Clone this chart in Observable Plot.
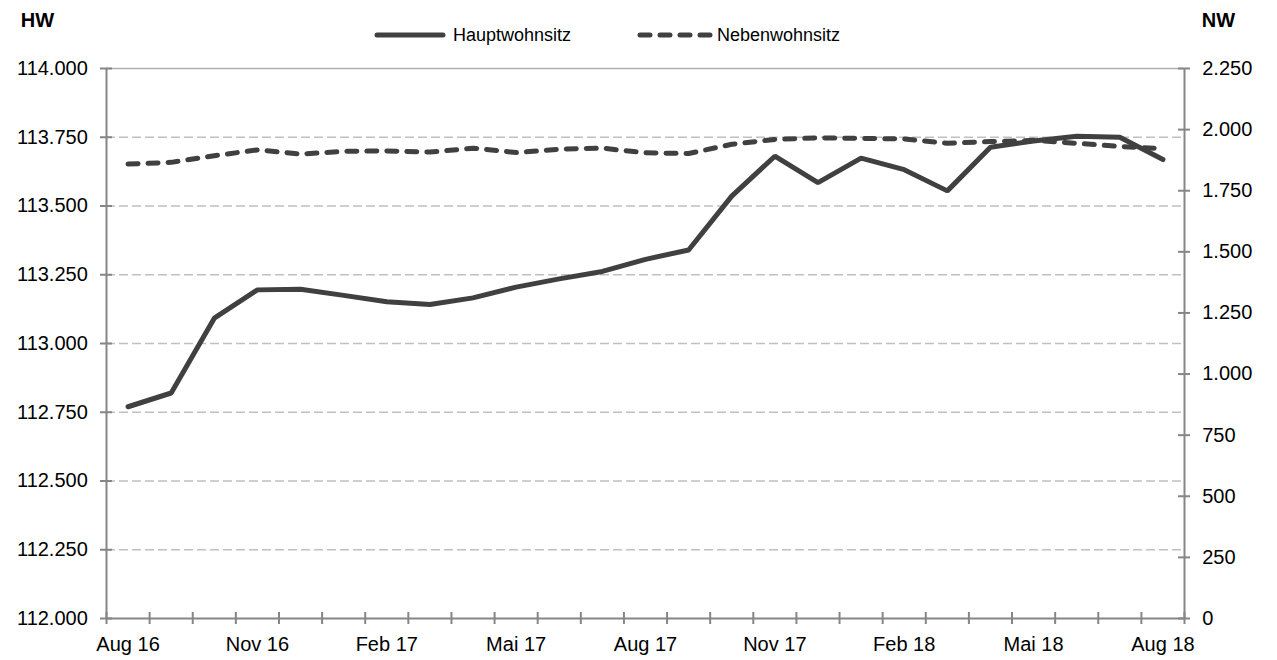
<!DOCTYPE html>
<html>
<head>
<meta charset="utf-8">
<script src="https://cdn.jsdelivr.net/npm/d3@7"></script>
<script src="https://cdn.jsdelivr.net/npm/@observablehq/plot@0.6"></script>
<style>
  html, body { margin: 0; padding: 0; background: #fff; }
  #wrap { position: relative; width: 1277px; height: 660px; font-family: "Liberation Sans", Arial, sans-serif; }
  #overlay { position: absolute; left: 0; top: 0; pointer-events: none; }
</style>
</head>
<body>
<div id="wrap"></div>
<script>
// ---- data ----
const months = ["Aug 16","Sep 16","Okt 16","Nov 16","Dez 16","Jan 17","Feb 17","Mrz 17","Apr 17","Mai 17","Jun 17","Jul 17",
                "Aug 17","Sep 17","Okt 17","Nov 17","Dez 17","Jan 18","Feb 18","Mrz 18","Apr 18","Mai 18","Jun 18","Jul 18","Aug 18"];
const hauptwohnsitz = [112770, 112820, 113092, 113195, 113197, 113175, 113152, 113142, 113166, 113205, 113235, 113262,
                       113306, 113340, 113536, 113681, 113585, 113674, 113632, 113555, 113714, 113736, 113754, 113750, 113669];
const nebenwohnsitz = [1859, 1866, 1893, 1917, 1900, 1911, 1913, 1908, 1924, 1906, 1920, 1924,
                       1905, 1902, 1940, 1960, 1966, 1964, 1962, 1944, 1951, 1956, 1944, 1931, 1922];
const hwTicks = [112000, 112250, 112500, 112750, 113000, 113250, 113500, 113750, 114000];
const nwTicks = [0, 250, 500, 750, 1000, 1250, 1500, 1750, 2000, 2250];
const labelMonths = ["Aug 16","Nov 16","Feb 17","Mai 17","Aug 17","Nov 17","Feb 18","Mai 18","Aug 18"];
const seriesNames = ["Hauptwohnsitz", "Nebenwohnsitz"];
const axisTitles = ["HW", "NW"];

// ---- helpers ----
const de = d3.formatLocale({decimal: ",", thousands: ".", grouping: [3], currency: ["", " €"]});
const fmt = de.format(",d");
const hwMin = hwTicks[0], hwMax = hwTicks[hwTicks.length - 1];
const nwMax = nwTicks[nwTicks.length - 1];
const nwToHw = v => hwMin + v * (hwMax - hwMin) / nwMax;
const hwToNw = v => (v - hwMin) * nwMax / (hwMax - hwMin);

const hwData = months.map((m, i) => ({i, v: hauptwohnsitz[i]}));
const nwData = months.map((m, i) => ({i, v: nwToHw(nebenwohnsitz[i])}));
const n = months.length;
const boundaries = d3.range(n + 1).map(k => k - 0.5);
const labelIdx = labelMonths.map(m => months.indexOf(m));

const axisColor = "#868686";
const lineColor = "#404040";

const chart = Plot.plot({
  width: 1277,
  height: 660,
  marginTop: 68,
  marginBottom: 42,
  marginLeft: 106,
  marginRight: 93,
  x: {type: "linear", domain: [-0.5, n - 0.5]},
  y: {domain: [hwMin, hwMax]},
  style: {fontFamily: "'Liberation Sans', Arial, sans-serif", fontSize: "20px", color: "#000", background: "#fff"},
  marks: [
    Plot.gridY(hwTicks.slice(1, -1), {stroke: "#c0c0c0", strokeOpacity: 1, strokeWidth: 1.6, strokeDasharray: "9,4"}),
    Plot.ruleY([hwMax], {stroke: "#b0b0b0", strokeWidth: 1.6}),
    // axis lines
    Plot.ruleX([-0.5], {stroke: axisColor, strokeWidth: 2}),
    Plot.ruleX([n - 0.5], {stroke: axisColor, strokeWidth: 2}),
    Plot.ruleY([hwMin], {stroke: axisColor, strokeWidth: 2}),
    // crossing tick marks
    Plot.ruleY(hwTicks, {x1: -0.5, x2: -0.5, insetLeft: -6, insetRight: -6, stroke: axisColor, strokeWidth: 2}),
    Plot.ruleY(nwTicks.map(nwToHw), {x1: n - 0.5, x2: n - 0.5, insetLeft: -6, insetRight: -6, stroke: axisColor, strokeWidth: 2}),
    Plot.ruleX(boundaries, {y1: hwMin, y2: hwMin, insetTop: -6, insetBottom: -6, stroke: axisColor, strokeWidth: 2}),
    // tick labels
    Plot.axisY({anchor: "left", ticks: hwTicks, tickSize: 0, tickPadding: 18.7, tickFormat: fmt, label: null}),
    Plot.axisY({anchor: "right", ticks: nwTicks.map(nwToHw), tickSize: 0, tickPadding: 17.7,
                tickFormat: v => fmt(Math.round(hwToNw(v))), label: null}),
    Plot.axisX({ticks: labelIdx, tickSize: 0, tickPadding: 18, tickFormat: i => months[i], label: null}),
    // series
    Plot.line(hwData, {x: "i", y: "v", stroke: lineColor, strokeWidth: 5, strokeLinejoin: "miter", strokeLinecap: "round"}),
    Plot.line(nwData, {x: "i", y: "v", stroke: lineColor, strokeWidth: 5, strokeDasharray: "10,10",
                       strokeLinejoin: "round", strokeLinecap: "round"})
  ]
});

const wrap = document.getElementById("wrap");
wrap.appendChild(chart);

// overlay: axis titles and legend
const ns = "http://www.w3.org/2000/svg";
const ov = document.createElementNS(ns, "svg");
ov.setAttribute("id", "overlay");
ov.setAttribute("width", 1277);
ov.setAttribute("height", 60);
ov.setAttribute("font-family", "'Liberation Sans', Arial, sans-serif");
function addText(x, y, s, size, weight) {
  const t = document.createElementNS(ns, "text");
  t.setAttribute("x", x); t.setAttribute("y", y);
  t.setAttribute("font-size", size);
  if (weight) t.setAttribute("font-weight", weight);
  t.setAttribute("fill", "#000");
  t.textContent = s;
  ov.appendChild(t);
}
function addLine(x1, x2, y, dash) {
  const l = document.createElementNS(ns, "line");
  l.setAttribute("x1", x1); l.setAttribute("x2", x2);
  l.setAttribute("y1", y); l.setAttribute("y2", y);
  l.setAttribute("stroke", lineColor); l.setAttribute("stroke-width", 5);
  l.setAttribute("stroke-linecap", "round");
  if (dash) l.setAttribute("stroke-dasharray", dash);
  ov.appendChild(l);
}
addText(20.7, 27, axisTitles[0], 20, "bold");
addText(1201.7, 27, axisTitles[1], 20, "bold");
addLine(377, 443, 35, null);
addText(453, 41, seriesNames[0], 18);
addLine(640, 712, 35, "10,10");
addText(717, 41, seriesNames[1], 18);
wrap.appendChild(ov);
</script>
</body>
</html>
